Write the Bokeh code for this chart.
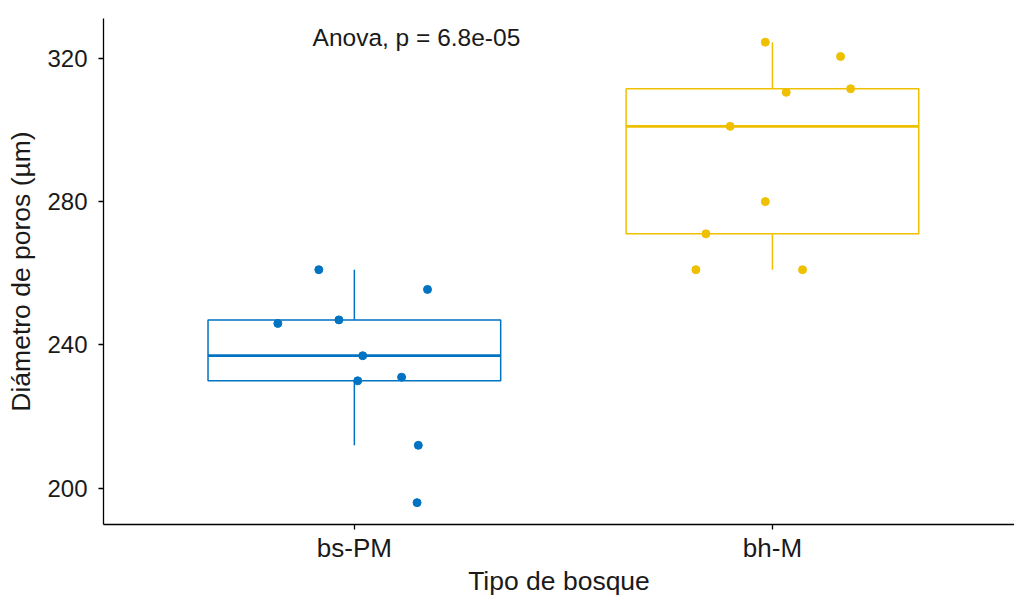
import numpy as np
from bokeh.plotting import figure
from bokeh.models import FixedTicker, Range1d, Label, ColumnDataSource
from bokeh.embed import file_html
from bokeh.resources import INLINE

# Pore diameter (µm) by forest type
groups = ["bs-PM", "bh-M"]
colors = ["#0073C2", "#EFC000"]
diam_bs_pm = [261, 255.5, 246, 247, 237, 230, 231, 212, 196]
diam_bh_m = [324.5, 320.5, 310.5, 311.5, 301, 280, 271, 261, 261]
# horizontal jitter applied to each observation (in category units)
jitter_bs_pm = [-0.085, 0.175, -0.183, -0.037, 0.020, 0.008, 0.113, 0.153, 0.150]
jitter_bh_m = [-0.017, 0.163, 0.033, 0.187, -0.101, -0.017, -0.159, -0.183, 0.072]
y_ticks = [200, 240, 280, 320]
anova_label = "Anova, p = 6.8e-05"

FONT = "Liberation Sans"
TXT = "#1a1a1a"

p = figure(width=1014, height=600, output_backend="svg", toolbar_location=None,
           x_range=Range1d(0.4, 2.579), y_range=Range1d(189.9, 331.1),
           min_border_left=103, min_border_right=0, min_border_top=18,
           min_border_bottom=76)
p.outline_line_color = None
p.xgrid.visible = False
p.ygrid.visible = False
p.background_fill_color = "white"
p.border_fill_color = "white"

series = [diam_bs_pm, diam_bh_m]
jitters = [jitter_bs_pm, jitter_bh_m]
half = 0.35

for i, (vals, jit, col) in enumerate(zip(series, jitters, colors), start=1):
    v = np.array(vals, dtype=float)
    q1, med, q3 = np.percentile(v, [25, 50, 75])
    iqr = q3 - q1
    upper = v[v <= q3 + 1.5 * iqr].max()
    lower = v[v >= q1 - 1.5 * iqr].min()

    # whiskers
    p.segment(x0=[i, i], y0=[q3, q1], x1=[i, i], y1=[upper, lower],
              line_color=col, line_width=1.5)
    # box
    p.quad(left=[i - half], right=[i + half], bottom=[q1], top=[q3],
           fill_color="white", line_color=col, line_width=1.5)
    # median
    p.segment(x0=[i - half], y0=[med], x1=[i + half], y1=[med],
              line_color=col, line_width=2.8)
    # observations
    src = ColumnDataSource(dict(x=[i + j for j in jit], y=vals))
    p.scatter("x", "y", source=src, size=8, fill_color=col, line_color=col)

p.add_layout(Label(x=0.9, y=325.8, text=anova_label, text_font=FONT,
                   text_font_size="24.5px", text_color=TXT,
                   text_align="left", text_baseline="middle"))

for ax in (p.xaxis[0], p.yaxis[0]):
    ax.axis_line_color = "black"
    ax.axis_line_width = 1.3
    ax.major_tick_line_color = "black"
    ax.major_tick_line_width = 1.3
    ax.major_tick_out = 5
    ax.major_tick_in = 0
    ax.minor_tick_line_color = None
    ax.major_label_text_font = FONT
    ax.major_label_text_color = TXT
    ax.axis_label_text_font = FONT
    ax.axis_label_text_color = TXT
    ax.axis_label_text_font_style = "normal"

p.xaxis.ticker = FixedTicker(ticks=[1, 2])
p.xaxis.major_label_overrides = {1: groups[0], 2: groups[1]}
p.xaxis.major_label_text_font_size = "26px"
p.xaxis.major_label_standoff = 3
p.xaxis.axis_label = "Tipo de bosque"
p.xaxis.axis_label_text_font_size = "26.5px"
p.xaxis.axis_label_standoff = 0

p.yaxis.ticker = FixedTicker(ticks=y_ticks)
p.yaxis.major_label_text_font_size = "24px"
p.yaxis.major_label_standoff = 11
p.yaxis.axis_label = "Diámetro de poros (µm)"
p.yaxis.axis_label_text_font_size = "26.5px"
p.yaxis.axis_label_standoff = 8

open("out.html", "w").write(file_html(p, INLINE))
